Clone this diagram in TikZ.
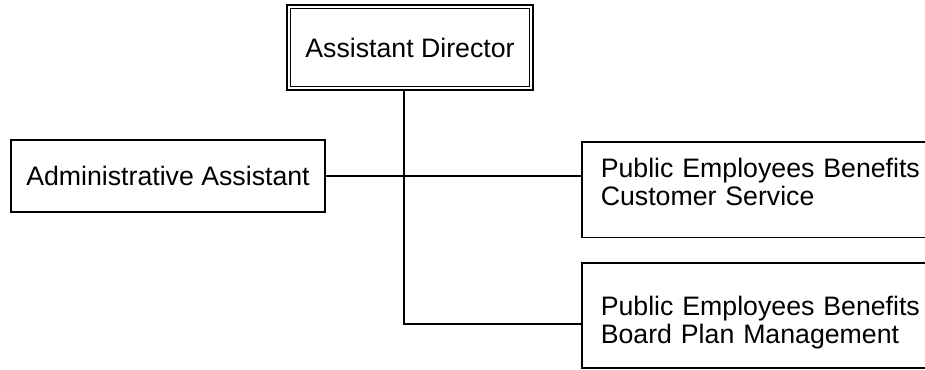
\documentclass[tikz,border=0pt]{standalone}
\usepackage{fontspec}
\setmainfont{Liberation Sans}
\begin{document}
\begin{tikzpicture}[x=1pt,y=-1pt,
  box/.style={draw, line width=1.6pt, inner sep=0pt, font=\fontsize{26.7}{28}\selectfont},
  rbox/.style={box, anchor=north west, minimum width=370pt, text width=340pt, align=left, inner xsep=19pt, inner ysep=16.5pt},
  conn/.style={line width=1.6pt}]
\useasboundingbox (0,0) rectangle (925,369);
\clip (0,0) rectangle (925,369);
% Assistant Director (double border)
\node[box, line width=2.6pt, minimum width=246pt, minimum height=85pt] (dir) at (410,47.5) {Assistant Director};
\draw[line width=1.2pt] ([xshift=5pt,yshift=-5pt]dir.north west) rectangle ([xshift=-5pt,yshift=5pt]dir.south east);
% Administrative Assistant
\node[box, minimum width=314pt, minimum height=72pt] (admin) at (168,176) {Administrative Assistant};
% Right boxes (cut off by the page edge)
\node[rbox] (pe1) at (581,141) {Public Employees Benefits\\Customer Service\rule[-15.5pt]{0pt}{15.5pt}};
\node[rbox] (pe2) at (581,262) {\rule{0pt}{36.5pt}Public Employees Benefits\\Board Plan Management\rule[-7.5pt]{0pt}{7.5pt}};
% junctions
\coordinate (j1) at (404,176);
\coordinate (j2) at (404,324);
\draw[conn] (dir.south -| j2) -- (j2) -- (j2 -| pe2.west);
\draw[conn] (admin.east |- j1) -- (j1 -| pe1.west);
\end{tikzpicture}
\end{document}
